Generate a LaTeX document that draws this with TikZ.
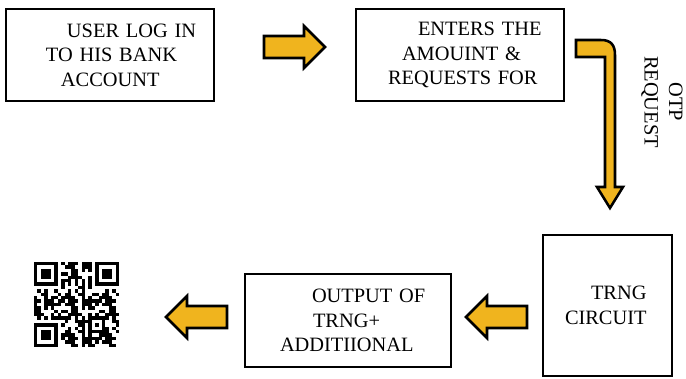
\documentclass[tikz,border=0pt]{standalone}
\usepackage{fontspec}
\setmainfont{Liberation Serif}
\newlength\px
\setlength\px{0.025cm}
\definecolor{arrowgold}{RGB}{240,180,30}
\tikzset{
  box/.style={draw, line width=1.8pt, inner sep=0pt, align=left,
    font=\fontsize{14.5}{17.5}\selectfont},
  label/.style={font=\fontsize{14.5}{17.5}\selectfont},
  fatbody/.style={draw, fill=arrowgold, line width=1.8pt, line join=miter},
  fatarrow/.pic={\draw[fatbody] (0,-11) -- (40,-11) -- (40,-21) -- (61,0)
    -- (40,21) -- (40,11) -- (0,11) -- cycle;}
}
\begin{document}
\begin{tikzpicture}[x=\px, y=-\px]
        \useasboundingbox (0,0) rectangle (686,378);
        % process boxes
        \node[box, text width=208\px, minimum height=92\px] (login) at (110,55)
            {\hspace*{61\px}USER LOG IN\\\hspace*{40\px}TO HIS BANK\\\hspace*{55\px}ACCOUNT};
        \node[box, text width=208\px, minimum height=92\px] (amount) at (460,55)
            {\hspace*{62\px}ENTERS THE\\\hspace*{46\px}AMOUINT \&\\\hspace*{32\px}REQUESTS FOR};
        \node[box, text width=129\px, minimum height=141\px] (trng) at (607.5,305.5)
            {\hspace*{48\px}TRNG\\\hspace*{22\px}CIRCUIT};
        \node[box, text width=206\px, minimum height=93\px] (output) at (348,320.5)
            {\hspace*{67\px}OUTPUT OF\\\hspace*{68\px}TRNG+\\\hspace*{35\px}ADDITIIONAL};
        \node[label, rotate=-90, align=center] (otp) at (662,102) {OTP\\REQUEST};

        % block arrows between the boxes
        \pic at (264,47) {fatarrow};
        \pic[rotate=180] at (527,317) {fatarrow};
        \pic[rotate=180] at (227,317) {fatarrow};
        % bent arrow down to the circuit
        \draw[fatbody] (576,40) -- (601,40) .. controls (611,40) and (615,45) .. (615,55)
            -- (615,187) -- (623,187) -- (610,208) -- (597,187) -- (605,187)
            -- (605,57) -- (576,57) -- cycle;

        % QR code
        \begin{scope}[shift={(34,262)}, x=3.4\px, y=-3.4\px]
            % finder patterns
            \foreach \fx/\fy in {0/0, 18/0, 0/18}{
                \fill (\fx,\fy) rectangle ++(7,7);
                \fill[white] (\fx+1,\fy+1) rectangle ++(5,5);
                \fill (\fx+2,\fy+2) rectangle ++(3,3);
            }
            % alignment pattern
            \fill (16,16) rectangle ++(5,5);
            \fill[white] (17,17) rectangle ++(3,3);
            \fill (18,18) rectangle ++(1,1);
            % timing patterns
            \foreach \k in {8,10,...,16}{
                \fill (\k,6) rectangle ++(1,1);
                \fill (6,\k) rectangle ++(1,1);
            }
            % data modules
            \foreach \i in {0,...,24}{
                \foreach \j in {0,...,24}{
                    \pgfmathtruncatemacro{\busy}{((\i<8) && (\j<8)) || ((\i>16) && (\j<8)) || ((\i<8) && (\j>16)) || ((\i>15) && (\i<21) && (\j>15) && (\j<21)) || (\i==6) || (\j==6)}
                    \pgfmathtruncatemacro{\dark}{mod(\i*\i*5+\j*\j*3+\i*\j*7+\i*11+\j*13,11)<6}
                    \ifnum\busy=0 \ifnum\dark=1 \fill (\i,\j) rectangle ++(1,1); \fi\fi
                }
            }
        \end{scope}
    \end{tikzpicture}
\end{document}
